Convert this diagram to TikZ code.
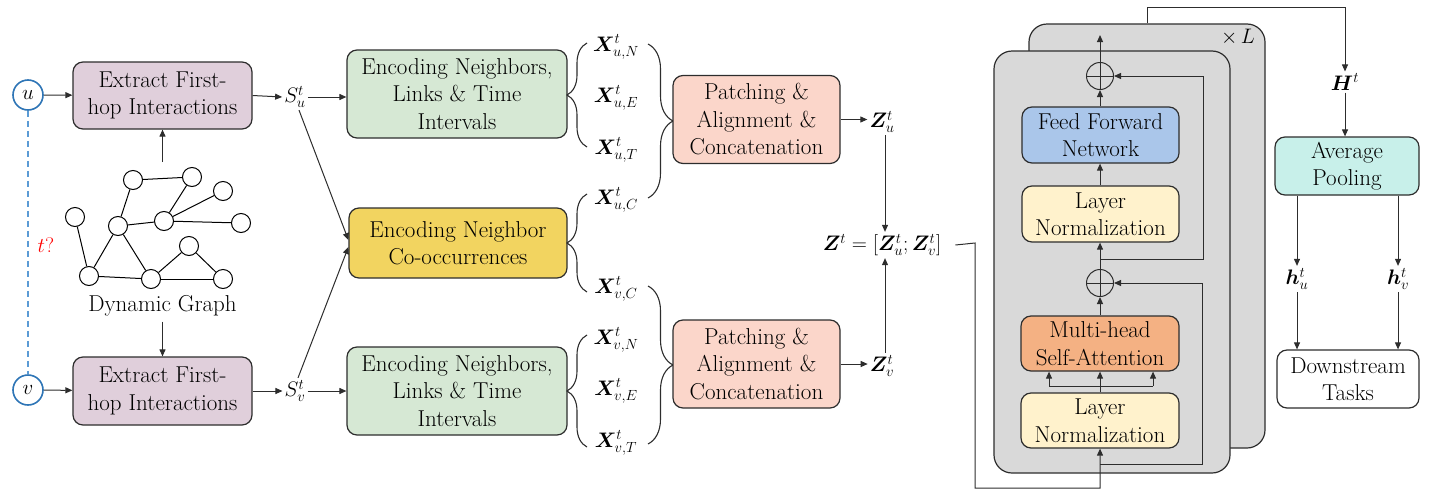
\RequirePackage{fix-cm}
\documentclass[tikz,border=0pt]{standalone}
\usepackage{amsmath}
\usepackage{bm}
\usetikzlibrary{arrows.meta,decorations.pathreplacing,calc}
\definecolor{exfill}{RGB}{224,207,219}
\definecolor{grfill}{RGB}{214,232,212}
\definecolor{yefill}{RGB}{242,212,96}
\definecolor{pafill}{RGB}{251,214,202}
\definecolor{fffill}{RGB}{170,198,234}
\definecolor{lnfill}{RGB}{255,242,204}
\definecolor{mhfill}{RGB}{244,177,131}
\definecolor{avfill}{RGB}{200,240,234}
\definecolor{pnfill}{RGB}{217,217,217}
\definecolor{ublue}{RGB}{46,117,182}
\definecolor{dblue}{RGB}{91,155,213}
\definecolor{edgec}{RGB}{45,45,45}
\tikzset{
  box/.style={draw=edgec, line width=1.2pt, rounded corners=10pt, align=center, inner sep=0pt, text=black},
  panel/.style={draw=edgec, line width=1.2pt, rounded corners=18pt, fill=pnfill, inner sep=0pt},
  arr/.style={-{Triangle[length=7pt,width=6pt]}, line width=1pt, draw=edgec},
  ln/.style={line width=1pt, draw=edgec},
  gnode/.style={circle, draw=black, fill=white, minimum size=19pt, inner sep=0pt, line width=1pt},
  ucirc/.style={circle, draw=ublue, fill=white, line width=1.6pt, minimum size=30pt, inner sep=0pt, font=\fontsize{21}{25}\selectfont},
  lbl/.style={inner sep=2pt, font=\fontsize{21}{25}\selectfont},
  plus/.style={circle, draw=edgec, line width=1pt, minimum size=27pt, inner sep=0pt},
  brc/.style={decorate, line width=1.1pt, draw=edgec},
}
\begin{document}
\begin{tikzpicture}[x=1pt,y=-1pt, font=\fontsize{23}{27.5}\selectfont]
\useasboundingbox (0,0) rectangle (1431,498);

% ---------------- left part
\node[ucirc] (u) at (28,95) {$u$};
\node[ucirc] (v) at (28,390) {$v$};
\draw[dblue, line width=1.2pt, dash pattern=on 6pt off 4pt] (u.south) -- (v.north);
\node[lbl, text=red] (tq) at (46,245) {$t?$};

\node[box, fill=exfill, minimum width=179pt, minimum height=67pt] (ex1) at (162.5,95.5) {Extract First-\\hop Interactions};
\node[box, fill=exfill, minimum width=179pt, minimum height=68pt] (ex2) at (162.5,391) {Extract First-\\hop Interactions};
\draw[arr] (u) -- (ex1);
\draw[arr] (v) -- (ex2);

% graph
\node[gnode] (gA) at (133,180) {};
\node[gnode] (gB) at (192,177) {};
\node[gnode] (gC) at (223,191) {};
\node[gnode] (gD) at (75,217) {};
\node[gnode] (gE) at (118,226) {};
\node[gnode] (gF) at (164,221) {};
\node[gnode] (gG) at (241,223) {};
\node[gnode] (gH) at (189,246) {};
\node[gnode] (gI) at (89,276) {};
\node[gnode] (gJ) at (151,279) {};
\node[gnode] (gK) at (223,279) {};
\foreach \a/\b in {gA/gB,gA/gE,gB/gF,gF/gC,gF/gG,gE/gF,gD/gI,gI/gE,gE/gJ,gI/gJ,gJ/gH,gH/gK,gJ/gK}
  \draw[line width=1pt] (\a) -- (\b);
\node[inner sep=2pt] (DG) at (162.5,306) {Dynamic Graph};
\coordinate (g1) at (162.5,162);
\draw[arr] (g1) -- (ex1.south);
\draw[arr] ([yshift=-3pt]DG.south) -- (ex2.north);

\node[lbl] (Su) at (295,97) {$S_u^t$};
\node[lbl] (Sv) at (295,391) {$S_v^t$};
\draw[arr] (ex1.east) -- (Su.west);
\draw[arr] (ex2.east) -- (Sv.west);

% ---------------- encoders
\node[box, fill=grfill, minimum width=220pt, minimum height=88pt] (en1) at (457,94) {Encoding Neighbors,\\Links \& Time\\Intervals};
\node[box, fill=yefill, minimum width=218pt, minimum height=70pt] (yb) at (458,243) {Encoding Neighbor\\Co-occurrences};
\node[box, fill=grfill, minimum width=220pt, minimum height=88pt] (en2) at (457,391) {Encoding Neighbors,\\Links \& Time\\Intervals};
\draw[arr] (Su.east) -- (en1.west |- Su.east);
\draw[arr] (Sv.east) -- (en2.west |- Sv.east);
\draw[arr] ([xshift=4pt]Su.south) -- ([yshift=3pt]yb.west);
\draw[arr] ([xshift=3pt]Sv.north) -- ([yshift=-4pt]yb.west);

% left braces
\draw[brc, decoration={brace, amplitude=20pt}] (587,147) -- (587,43);
\draw[brc, decoration={brace, amplitude=20pt}] (587,292) -- (587,194);
\draw[brc, decoration={brace, amplitude=20pt}] (587,447) -- (587,335);

% X labels
\node[lbl] (xuN) at (616,47) {$\bm{X}_{u,N}^{t}$};
\node[lbl] (xuE) at (616,98) {$\bm{X}_{u,E}^{t}$};
\node[lbl] (xuT) at (616,150) {$\bm{X}_{u,T}^{t}$};
\node[lbl] (xuC) at (616,200) {$\bm{X}_{u,C}^{t}$};
\node[lbl] (xvC) at (616,289) {$\bm{X}_{v,C}^{t}$};
\node[lbl] (xvN) at (616,340) {$\bm{X}_{v,N}^{t}$};
\node[lbl] (xvE) at (616,391) {$\bm{X}_{v,E}^{t}$};
\node[lbl] (xvT) at (616,443) {$\bm{X}_{v,T}^{t}$};

% right braces
\draw[brc, decoration={brace, amplitude=25pt}] (648,44) -- (648,198);
\draw[brc, decoration={brace, amplitude=25pt}] (648,286) -- (648,444);

% ---------------- patching
\node[box, fill=pafill, minimum width=167pt, minimum height=88pt] (pa1) at (756.5,119.5) {Patching \&\\Alignment \&\\Concatenation};
\node[box, fill=pafill, minimum width=167pt, minimum height=88pt] (pa2) at (756.5,364) {Patching \&\\Alignment \&\\Concatenation};
\node[lbl] (Zu) at (882,122) {$\bm{Z}_u^t$};
\node[lbl] (Zv) at (882,366) {$\bm{Z}_v^t$};
\draw[arr] (pa1.east) -- (Zu.west |- pa1.east);
\draw[arr] (pa2.east) -- (Zv.west |- pa2.east);
\node[lbl] (Zeq) at (882,245) {$\bm{Z}^t = [\bm{Z}_u^t; \bm{Z}_v^t]$};
\draw[arr] ([xshift=3pt]Zu.south) -- ([xshift=3pt]Zeq.north);
\draw[arr] ([xshift=3pt]Zv.north) -- ([xshift=3pt]Zeq.south);

% ---------------- transformer
\node[panel, minimum width=236pt, minimum height=424pt] (back) at (1147,236) {};
\node[panel, minimum width=236pt, minimum height=422pt] (front) at (1112,262) {};
\node[lbl] (xL) at (1238,37) {$\times\,L$};

\node[box, fill=fffill, minimum width=157pt, minimum height=56pt] (ffn) at (1100.5,135) {Feed Forward\\Network};
\node[box, fill=lnfill, minimum width=157pt, minimum height=56pt] (ln2) at (1100.5,214) {Layer\\Normalization};
\node[box, fill=mhfill, minimum width=158pt, minimum height=55pt] (mha) at (1100,343.5) {Multi-head\\Self-Attention};
\node[box, fill=lnfill, minimum width=158pt, minimum height=55pt] (ln1) at (1100,420.5) {Layer\\Normalization};
\node[plus] (pA) at (1100,76) {};
\node[plus] (pB) at (1100,283) {};
\draw[ln] (pA.north) -- (pA.south) (pA.west) -- (pA.east);
\draw[ln] (pB.north) -- (pB.south) (pB.west) -- (pB.east);

\coordinate (c0) at (975,243);
\coordinate (c1) at (975,488);
\draw[arr] ([xshift=12pt]Zeq.east) -- (c0) -- (c1) -| (ln1.south);
\coordinate (r1) at (1100,464);
\coordinate (r1c) at (1202,464);
\draw[arr] (r1) -- (r1c) |- (pB.east);
\draw[arr] (ln1.north) -- (mha.south);
\coordinate (m1) at (1049,386);
\coordinate (m2) at (1153,386);
\draw[ln] (m1) -- (m2);
\draw[arr] (m1) -- (mha.south -| m1);
\draw[arr] (m2) -- (mha.south -| m2);
\draw[arr] (mha.north) -- (pB.south);
\draw[arr] (pB.north) -- (ln2.south -| pB.north);
\coordinate (r2) at (1100,259);
\coordinate (r2c) at (1203,259);
\draw[arr] (r2) -- (r2c) |- (pA.east);
\draw[arr] (ln2.north -| pB.north) -- (ffn.south -| pB.north);
\draw[arr] (ffn.north -| pA.south) -- (pA.south);
\coordinate (top1) at (1100,35);
\draw[arr] (pA.north) -- (top1);

% ---------------- right part
\node[lbl] (H) at (1345,82) {$\bm{H}^t$};
\coordinate (o2) at (1147,7);
\draw[arr] (back.north) -- (o2) -| (H.north);
\node[box, fill=avfill, minimum width=144pt, minimum height=58pt] (avg) at (1347,166) {Average\\Pooling};
\draw[arr] (H.south) -- (avg.north -| H.south);
\node[lbl] (hu) at (1297,279) {$\bm{h}_u^t$};
\node[lbl] (hv) at (1398,279) {$\bm{h}_v^t$};
\node[box, fill=white, minimum width=142pt, minimum height=58pt] (ds) at (1348,379) {Downstream\\Tasks};
\draw[arr] (avg.south -| hu.north) -- (hu.north);
\draw[arr] (avg.south -| hv.north) -- (hv.north);
\draw[arr] (hu.south) -- (ds.north -| hu.south);
\draw[arr] (hv.south) -- (ds.north -| hv.south);
\end{tikzpicture}
\end{document}
